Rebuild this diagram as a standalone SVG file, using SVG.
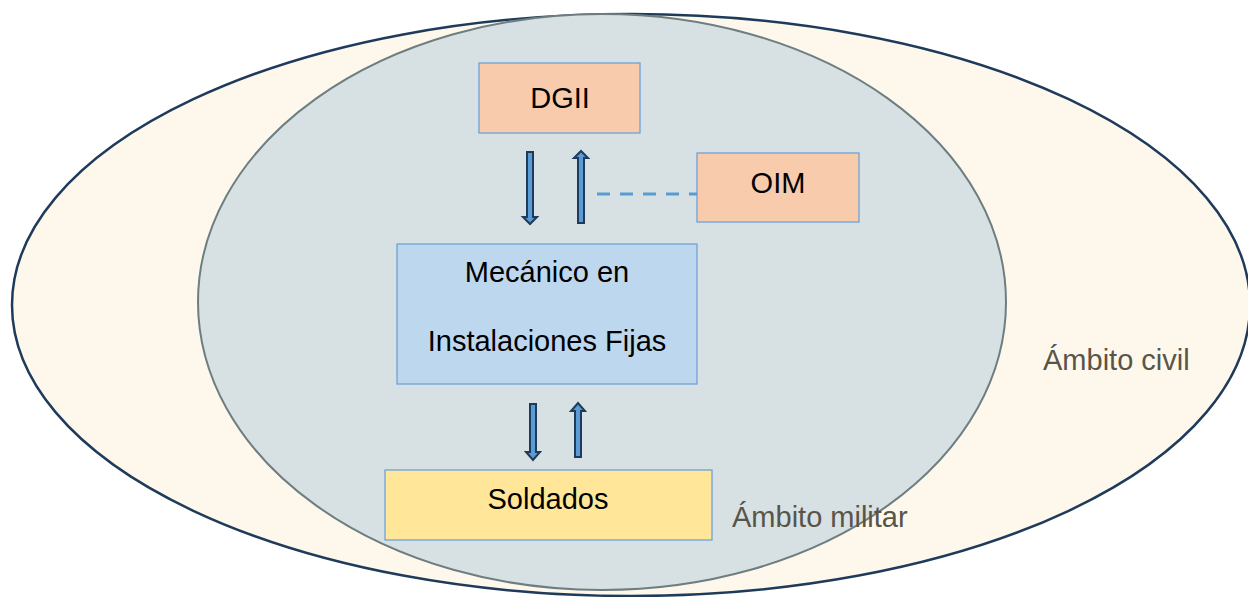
<svg xmlns="http://www.w3.org/2000/svg" width="1248" height="597" viewBox="0 0 1248 597">
<style>
.box{stroke:#6FA1D8;stroke-width:1.3}
.t{font-family:"Liberation Sans",Arial,sans-serif;font-size:29px;fill:#000;text-anchor:middle}
.amb{font-family:"Liberation Sans",Arial,sans-serif;font-size:29px;fill:#595448}
.arr{fill:#5B9BD5;stroke:#1F3B5B;stroke-width:2;stroke-linejoin:miter}
</style>
<rect width="1248" height="597" fill="#fff"/>
<g id="civil">
<ellipse cx="631" cy="305" rx="619" ry="291" fill="#FEF8EC" stroke="#1F3B5B" stroke-width="2.5"/>
<text class="amb" x="1043" y="370">Ámbito civil</text>
</g>
<g id="militar">
<ellipse cx="602" cy="302" rx="404" ry="288" fill="#D7E1E3" stroke="#6E7E80" stroke-width="2"/>
<text class="amb" x="732" y="527">Ámbito militar</text>
</g>
<g id="dgii">
<rect class="box" x="479" y="63" width="161" height="70" fill="#F8CBAD"/>
<text class="t" x="560" y="108">DGII</text>
</g>
<g id="oim">
<rect class="box" x="697" y="153" width="162" height="69" fill="#F8CBAD"/>
<text class="t" x="778" y="193">OIM</text>
</g>
<g id="mecanico">
<rect class="box" x="397" y="244" width="300" height="140" fill="#BDD7EE"/>
<text class="t" x="547" y="282">Mecánico en</text>
<text class="t" x="547" y="351">Instalaciones Fijas</text>
</g>
<g id="soldados">
<rect class="box" x="385" y="470" width="327" height="70" fill="#FFE699"/>
<text class="t" x="548" y="509">Soldados</text>
</g>
<g id="connectors">
<path class="arr" d="M527 152 H533 V217 H537 L530 224 L523 217 H527 Z"/>
<path class="arr" d="M578 223 H584 V158 H588 L581 151 L574 158 H578 Z"/>
<path class="arr" d="M530 404 H536 V452 H540 L533 460 L526 452 H530 Z"/>
<path class="arr" d="M575 457 H581 V411 H585 L578 403 L571 411 H575 Z"/>
<line x1="597" y1="194" x2="697" y2="194" stroke="#5B9BD5" stroke-width="3" stroke-dasharray="13 10"/>
</g>
</svg>
